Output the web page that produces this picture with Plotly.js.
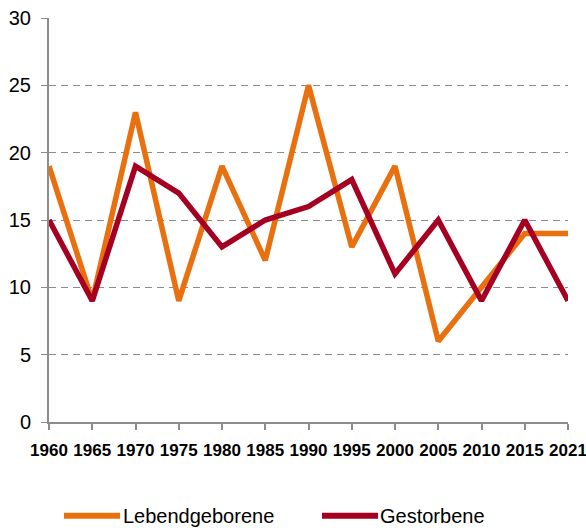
<!DOCTYPE html>
<html>
<head>
<meta charset="utf-8">
<script src="https://cdn.plot.ly/plotly-3.0.1.min.js"></script>
<style>html,body{margin:0;padding:0;background:#fff;}#chart{width:586px;height:528px;}</style>
</head>
<body>
<div id="chart"></div>
<script>
const years = ["1960","1965","1970","1975","1980","1985","1990","1995","2000","2005","2010","2015","2021"];
const lebendgeborene = [19, 9, 23, 9, 19, 12, 25, 13, 19, 6, 10, 14, 14];
const gestorbene = [15, 9, 19, 17, 13, 15, 16, 18, 11, 15, 9, 15, 9];
const seriesNames = ["Lebendgeborene", "Gestorbene"];
const colors = ["#E8700F", "#A50021"];

const traces = [
  {x: years, y: lebendgeborene, name: seriesNames[0], type: "scatter", mode: "lines",
   line: {color: colors[0], width: 5.5, shape: "linear"}, showlegend: false},
  {x: years, y: gestorbene, name: seriesNames[1], type: "scatter", mode: "lines",
   line: {color: colors[1], width: 5.5, shape: "linear"}, showlegend: false}
];

const legY = -0.232;
const layout = {
  width: 586, height: 528,
  margin: {l: 49, r: 18, t: 18, b: 106},
  paper_bgcolor: "#fff", plot_bgcolor: "#fff",
  showlegend: false,
  xaxis: {
    type: "category", range: [0, 12], tickangle: 0,
    showgrid: false, showline: true, linecolor: "#8c8c8c", linewidth: 2,
    ticks: "outside", ticklen: 6, tickcolor: "#8c8c8c", tickwidth: 2,
    ticklabelstandoff: 6,
    tickfont: {family: "Liberation Sans, Arial", size: 17, color: "#000", weight: "bold"},
    fixedrange: true, zeroline: false
  },
  yaxis: {
    range: [0, 30], tickvals: [0,5,10,15,20,25,30],
    showgrid: true, gridcolor: "#8c8c8c", gridwidth: 1, griddash: "7px,5px",
    showline: true, linecolor: "#8c8c8c", linewidth: 2,
    ticks: "outside", ticklen: 6, tickcolor: "#8c8c8c", tickwidth: 1,
    ticklabelstandoff: 6,
    tickfont: {family: "Liberation Sans, Arial", size: 20, color: "#000"},
    zeroline: false, fixedrange: true
  },
  shapes: [
    {type: "line", xref: "paper", yref: "paper", x0: 0.0289, x1: 0.1368, y0: legY, y1: legY,
     line: {color: colors[0], width: 6}},
    {type: "line", xref: "paper", yref: "paper", x0: 0.526, x1: 0.634, y0: legY, y1: legY,
     line: {color: colors[1], width: 6}}
  ],
  annotations: [
    {xref: "paper", yref: "paper", x: 0.139, y: legY, xanchor: "left", yanchor: "middle",
     text: seriesNames[0], showarrow: false, font: {family: "Liberation Sans, Arial", size: 20, color: "#000"}},
    {xref: "paper", yref: "paper", x: 0.634, y: legY, xanchor: "left", yanchor: "middle",
     text: seriesNames[1], showarrow: false, font: {family: "Liberation Sans, Arial", size: 20, color: "#000"}}
  ]
};

Plotly.newPlot("chart", traces, layout, {displayModeBar: false, staticPlot: true});
</script>
</body>
</html>
